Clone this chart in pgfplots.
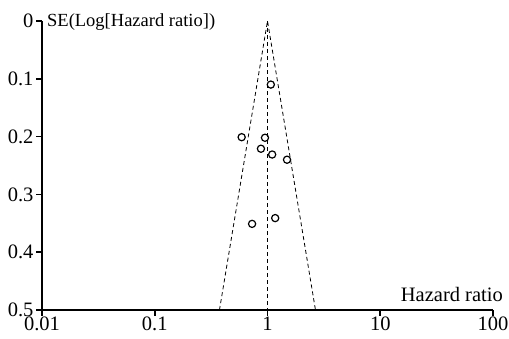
\documentclass[border=0pt]{standalone}
\usepackage{pgfplots}
\pgfplotsset{compat=1.18}
\usepackage{fontspec}
\setmainfont{Liberation Serif}
\begin{document}
\begin{tikzpicture}
\begin{axis}[
  name=ax,
  scale only axis,
  width=451pt, height=289pt,
  xmode=log,
  xmin=0.01, xmax=100,
  ymin=0, ymax=0.5,
  y dir=reverse,
  axis x line*=bottom,
  axis y line*=left,
  axis line style={line width=1.6pt, -},
  xtick={0.01,0.1,1,10,100},
  xticklabels={0.01,0.1,1,10,100},
  ytick={0,0.1,0.2,0.3,0.4,0.5},
  yticklabels={0,0.1,0.2,0.3,0.4,0.5},
  xminorticks=false,
  yminorticks=false,
  tick align=outside,
  major tick length=6pt,
  /pgf/number format/assume math mode=true,
  tick style={line width=1.6pt, black},
  ticklabel style={font=\fontsize{20.5}{23}\selectfont},
  xticklabel style={yshift=3pt},
  yticklabel style={xshift=1pt},
  clip=false,
]
\addplot[black, line width=0.8pt, dash pattern=on 4pt off 3pt] coordinates {(0.375,0.5) (1,0) (2.664,0.5)};
\addplot[black, line width=0.8pt, dash pattern=on 4pt off 3pt] coordinates {(1,0) (1,0.5)};
\addplot[only marks, mark=o, mark size=3.6pt, mark options={line width=1.2pt, fill=white, draw=black}] coordinates {
(1.07,0.110)
(0.59,0.201)
(0.95,0.202)
(0.875,0.221)
(1.10,0.231)
(1.49,0.240)
(1.17,0.341)
(0.73,0.351)
};
\node[anchor=west, font=\fontsize{18.5}{22}\selectfont, inner sep=0pt] at ([xshift=5pt,yshift=-1pt]rel axis cs:0,1) {SE(Log[Hazard ratio])};
\node[anchor=south east, font=\fontsize{20.5}{22}\selectfont, inner sep=0pt] at ([xshift=10pt,yshift=8pt]rel axis cs:1,0) {Hazard ratio};
\end{axis}
\pgfresetboundingbox
\path ([shift={(-42pt,-29pt)}]ax.south west) rectangle ([shift={(16pt,21pt)}]ax.north east);
\end{tikzpicture}
\end{document}
